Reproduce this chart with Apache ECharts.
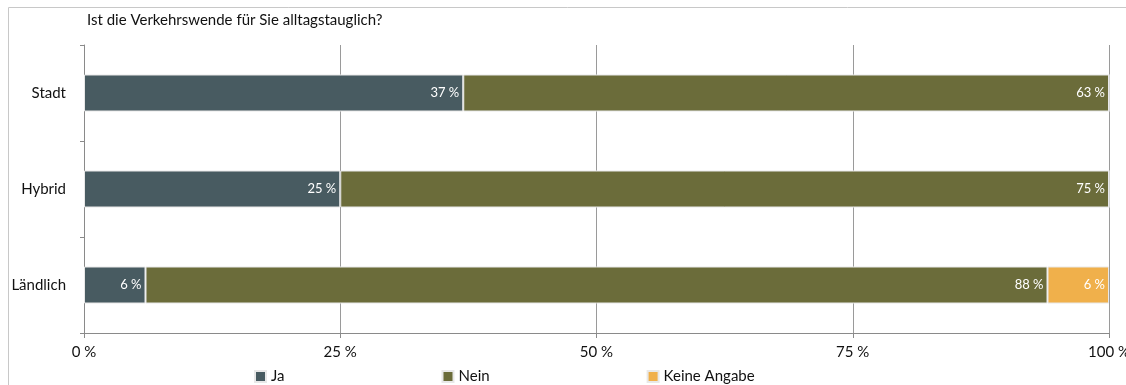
<!DOCTYPE html>
<html>
<head>
<meta charset="utf-8">
<script src="https://cdn.jsdelivr.net/npm/echarts@6/dist/echarts.min.js"></script>
<style>
  html, body { margin: 0; padding: 0; background: #fff; }
  #main { width: 1126px; height: 385px; }
</style>
</head>
<body>
<div id="main"></div>
<script>
// Daten
var categories = ['Stadt', 'Hybrid', 'Ländlich']
var ja = [37, 25, 6]
var nein = [63, 75, 88]
var keineAngabe = [0, 0, 6]
var xTicks = [0, 25, 50, 75, 100]

var font = 'Lato, "Open Sans", sans-serif'

function seg(name, data, color) {
  return {
    name: name,
    type: 'bar',
    stack: 'total',
    barWidth: 37,
    data: data,
    itemStyle: {
      color: color,
      borderColor: '#e8e8e8',
      borderWidth: 1
    },
    label: {
      show: true,
      position: 'insideRight',
      distance: 4,
      color: '#fff',
      fontSize: 13,
      fontFamily: font,
      formatter: function (p) { return p.value ? p.value + ' %' : '' }
    }
  }
}

var chart = echarts.init(document.getElementById('main'))
chart.setOption({
  animation: false,
  textStyle: { fontFamily: font },
  title: {
    text: 'Ist die Verkehrswende für Sie alltagstauglich?',
    left: 82,
    top: 8,
    textStyle: { fontSize: 15, fontWeight: 'normal', color: '#111', fontFamily: font }
  },
  graphic: [{
    type: 'rect',
    shape: { x: 8.5, y: 7.5, width: 1200, height: 500 },
    style: { fill: null, stroke: '#c8c8c8', lineWidth: 1 },
    silent: true
  }],
  legend: {
    left: 249,
    bottom: -4,
    itemWidth: 11,
    itemHeight: 11,
    itemGap: 157,
    icon: 'rect',
    textStyle: { fontSize: 15, color: '#111', fontFamily: font },
    data: ['Ja', 'Nein', 'Keine Angabe']
  },
  grid: {
    left: 84,
    right: 17,
    top: 45,
    bottom: 52,
    outerBoundsMode: 'none'
  },
  xAxis: {
    type: 'value',
    min: 0,
    max: 100,
    interval: 25,
    axisLine: { show: true, lineStyle: { color: '#8a8a8a' } },
    axisTick: { show: true, length: 5, lineStyle: { color: '#8a8a8a' } },
    axisLabel: {
      color: '#111',
      fontSize: 15,
      margin: 12,
      formatter: function (v) { return xTicks.indexOf(v) >= 0 ? v + ' %' : '' }
    },
    splitLine: { show: true, lineStyle: { color: '#9a9a9a' } }
  },
  yAxis: {
    type: 'category',
    inverse: true,
    data: categories,
    axisLine: { show: true, lineStyle: { color: '#8a8a8a' } },
    axisTick: { show: true, length: 4, lineStyle: { color: '#8a8a8a' } },
    axisLabel: { color: '#111', fontSize: 15, margin: 18 }
  },
  series: [
    seg('Ja', ja, '#485b61'),
    seg('Nein', nein, '#6b6c3a'),
    seg('Keine Angabe', keineAngabe, '#f0b04b')
  ]
})
</script>
</body>
</html>
